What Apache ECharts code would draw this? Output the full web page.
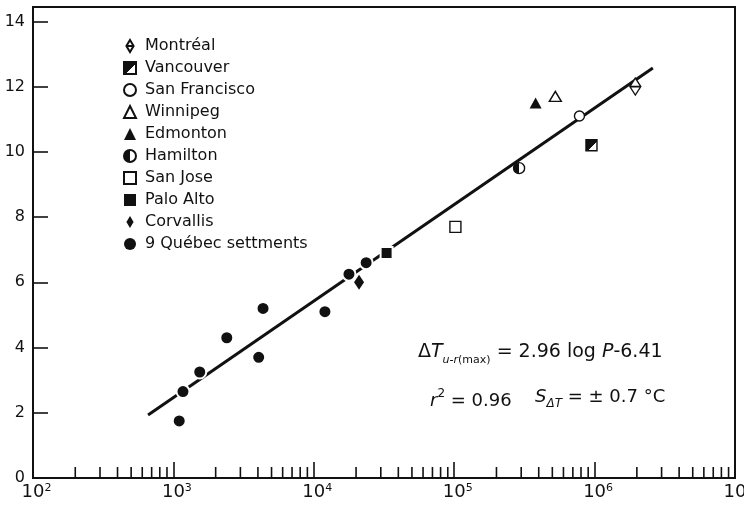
<!DOCTYPE html>
<html>
<head>
<meta charset="utf-8">
<script src="https://cdn.jsdelivr.net/npm/echarts@6/dist/echarts.min.js"></script>
<style>html,body{margin:0;padding:0;background:#fff}#c{width:744px;height:506px}</style>
</head>
<body>
<div id="c"></div>
<script>
// ---- data (P = population, ΔT in °C) ----
const montreal     = [[1.95e6, 12.0]];
const vancouver    = [[9.5e5, 10.2]];
const sanFrancisco = [[7.8e5, 11.1]];
const winnipeg     = [[5.25e5, 11.7]];
const edmonton     = [[3.8e5, 11.5]];
const hamilton     = [[2.9e5, 9.5]];
const sanJose      = [[1.02e5, 7.7]];
const paloAlto     = [[3.3e4, 6.9]];
const corvallis    = [[2.1e4, 6.0]];
const quebec       = [[2.36e4, 6.6], [1.78e4, 6.25], [1.2e4, 5.1], [4.35e3, 5.2], [2.4e3, 4.3],
                      [4.05e3, 3.7], [1.54e3, 3.25], [1.17e3, 2.65], [1.1e3, 1.75]];
const fitLine      = [[660, 1.93], [2.6e6, 12.57]];
const minorTicks   = [200,300,400,500,600,700,800,900,
                      2000,3000,4000,5000,6000,7000,8000,9000,
                      2e4,3e4,4e4,5e4,6e4,7e4,8e4,9e4,
                      2e5,3e5,4e5,5e5,6e5,7e5,8e5,9e5,
                      2e6,3e6,4e6,5e6,6e6,7e6,8e6,9e6];
const yTicks = [0, 2, 4, 6, 8, 10, 12, 14];
const legendNames = ['Montréal','Vancouver','San Francisco','Winnipeg','Edmonton','Hamilton',
                     'San Jose','Palo Alto','Corvallis','9 Québec settments'];
const filledNames = ['Palo Alto', '9 Québec settments'];

const FONT = 'DejaVu Sans';
const INK = '#111';
const chart = echarts.init(document.getElementById('c'), null, {renderer: 'canvas'});

const halfH = new echarts.graphic.LinearGradient(0, 0, 1, 0, [
  {offset: 0, color: INK}, {offset: 0.5, color: INK}, {offset: 0.5, color: '#fff'}, {offset: 1, color: '#fff'}]);
const halfD = new echarts.graphic.LinearGradient(0, 0, 1, 1, [
  {offset: 0, color: INK}, {offset: 0.55, color: INK}, {offset: 0.55, color: '#fff'}, {offset: 1, color: '#fff'}]);

const openStyle = {color: '#fff', borderColor: INK, borderWidth: 1.4, opacity: 1};
const filledStyle = {color: INK, borderColor: '#fff', borderWidth: 2, opacity: 1};
const solidStyle = {color: INK, borderWidth: 0, opacity: 1};

function pt(name, data, symbol, size, style, keep) {
  return {name, type: 'scatter', data, symbol, symbolSize: size, symbolKeepAspect: !!keep,
          itemStyle: style, z: 5, silent: true};
}

const option = {
  animation: false,
  backgroundColor: '#fff',
  grid: {left: 33, right: 9, top: 7, bottom: 28, show: true, borderColor: INK, borderWidth: 2,
         containLabel: false, outerBoundsMode: 'none'},
  legend: {
    orient: 'vertical', left: 118, top: 33, itemGap: 6, itemWidth: 12, itemHeight: 12,
    selectedMode: false,
    data: legendNames.map(n => filledNames.indexOf(n) >= 0
      ? {name: n, itemStyle: {borderWidth: 0}} : {name: n}),
    textStyle: {fontFamily: FONT, fontSize: 16, color: INK, lineHeight: 14, padding: [0, 0, 0, 4]}
  },
  xAxis: {
    type: 'log', logBase: 10, min: 100, max: 1e7,
    axisLine: {lineStyle: {color: INK, width: 2}},
    axisTick: {inside: true, length: 16, lineStyle: {color: INK, width: 1.6}},
    splitLine: {show: false},
    axisLabel: {
      margin: 5,
      formatter: v => '{p|}{b|10}{s|' + Math.round(Math.log10(v)) + '}',
      rich: {
        p: {width: 7},
        b: {fontFamily: FONT, fontSize: 18, color: INK},
        s: {fontFamily: FONT, fontSize: 11, color: INK, verticalAlign: 'top', width: 7, align: 'left'}
      }
    }
  },
  yAxis: {
    type: 'value', min: 0, max: 14.44, interval: 2,
    axisLine: {show: true, lineStyle: {color: INK, width: 2}},
    axisTick: {inside: true, length: 15, lineStyle: {color: INK, width: 1.6}},
    splitLine: {show: false},
    axisLabel: {
      margin: 8, fontFamily: FONT, fontSize: 16, color: INK, showMaxLabel: false,
      formatter: v => (yTicks.indexOf(v) >= 0 ? String(v) : '')
    }
  },
  series: [
    {type: 'line', data: fitLine, symbol: 'none', silent: true, z: 2,
     lineStyle: {color: INK, width: 3, opacity: 1}},
    {type: 'scatter', data: minorTicks.map(v => [v, 0]), symbol: 'rect', symbolSize: [1.6, 11],
     symbolOffset: [0, '-50%'], itemStyle: {color: INK, opacity: 1}, silent: true, z: 3},
    pt('Montréal', montreal, 'path://M0,-10 L6,0 L0,10 L-6,0 Z M-6,0 L6,0', [11, 17], openStyle, false),
    pt('Vancouver', vancouver, 'rect', 11, {color: halfD, borderColor: INK, borderWidth: 1.4, opacity: 1}),
    pt('San Francisco', sanFrancisco, 'circle', 10, openStyle),
    pt('Winnipeg', winnipeg, 'triangle', [12, 10], openStyle),
    pt('Edmonton', edmonton, 'triangle', [12, 11], solidStyle),
    pt('Hamilton', hamilton, 'circle', 11, {color: halfH, borderColor: INK, borderWidth: 1.4, opacity: 1}),
    pt('San Jose', sanJose, 'rect', 11, openStyle),
    pt('Palo Alto', paloAlto, 'rect', 12, filledStyle),
    pt('Corvallis', corvallis, 'path://M0,-10 L6,0 L0,10 L-6,0 Z', [10, 15], solidStyle, false),
    pt('9 Québec settments', quebec, 'circle', 13, filledStyle)
  ],
  graphic: [
    {type: 'text', left: 418, top: 343, z: 10, style: {
      text: '{n|Δ}{i|T}{sub|u-r}{sm|(max)}{n| = 2.96 log }{i|P}{n|-6.41}',
      rich: {
        n: {fontFamily: FONT, fontSize: 19, fill: INK, lineHeight: 26},
        i: {fontFamily: FONT, fontSize: 19, fontStyle: 'italic', fill: INK, lineHeight: 26},
        sub: {fontFamily: FONT, fontSize: 11, fontStyle: 'italic', fill: INK, verticalAlign: 'bottom', lineHeight: 26},
        sm: {fontFamily: FONT, fontSize: 11, fill: INK, verticalAlign: 'bottom', lineHeight: 26}
      }}},
    {type: 'text', left: 430, top: 388, z: 10, style: {
      text: '{i|r}{sup|2}{n| = 0.96}',
      rich: {
        n: {fontFamily: FONT, fontSize: 18, fill: INK, lineHeight: 26},
        i: {fontFamily: FONT, fontSize: 18, fontStyle: 'italic', fill: INK, lineHeight: 26},
        sup: {fontFamily: FONT, fontSize: 12, fill: INK, verticalAlign: 'top', lineHeight: 26}
      }}},
    {type: 'text', left: 535, top: 388, z: 10, style: {
      text: '{i|S}{sub|ΔT}{n| = ± 0.7 °C}',
      rich: {
        n: {fontFamily: FONT, fontSize: 18, fill: INK, lineHeight: 26},
        i: {fontFamily: FONT, fontSize: 18, fontStyle: 'italic', fill: INK, lineHeight: 26},
        sub: {fontFamily: FONT, fontSize: 12, fontStyle: 'italic', fill: INK, verticalAlign: 'bottom', lineHeight: 26}
      }}}
  ]
};
chart.setOption(option);
</script>
</body>
</html>
